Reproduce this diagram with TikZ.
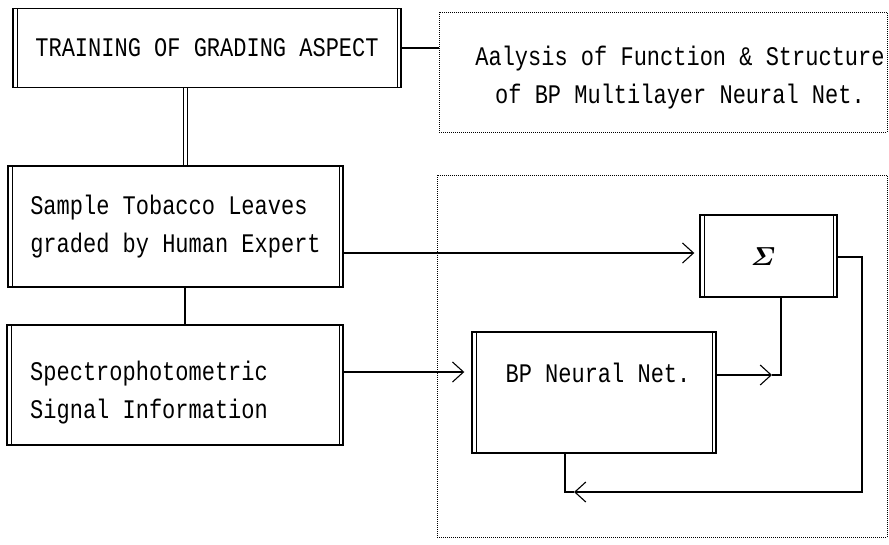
\documentclass[tikz,border=0pt]{standalone}
\usepackage{fontspec}
\setmonofont{Liberation Mono}
\usepackage{graphicx}
\usetikzlibrary{arrows.meta}
\newcommand{\tl}[1]{\scalebox{1}[1.22]{#1}}
\begin{document}
\begin{tikzpicture}[x=1pt,y=-1pt,
  box/.style={draw, line width=1.4pt, inner sep=0pt,
    path picture={
      \draw[line width=0.9pt] ([xshift=4pt]path picture bounding box.north west) -- ([xshift=4pt]path picture bounding box.south west);
      \draw[line width=0.9pt] ([xshift=-4pt]path picture bounding box.north east) -- ([xshift=-4pt]path picture bounding box.south east);
    }},
  dotbox/.style={draw, line width=0.7pt, dash pattern=on 1pt off 1pt, inner sep=0pt},
  txt/.style={font=\fontsize{22}{38}\selectfont\ttfamily, inner sep=0pt},
  conn/.style={line width=1.1pt},
  arr/.style={line width=1.1pt, -{Straight Barb[length=11pt, width=20pt, line width=1.1pt]}},
  thin/.style={line width=0.9pt}
]
\useasboundingbox (0,0) rectangle (889,544);

% boxes
\node[box, minimum width=388pt, minimum height=79pt, txt] (train) at (207,48) {\tl{TRAINING OF GRADING ASPECT}};
\node[dotbox, minimum width=448pt, minimum height=120pt] (anal) at (663,72) {};
\node[txt, align=center] (analt) at (680,78) {\tl{Aalysis of Function \& Structure}\\\tl{of BP Multilayer Neural Net.}};

\node[box, minimum width=335pt, minimum height=121pt, txt, align=left] (sample) at (175.5,226.5) {\tl{Sample Tobacco Leaves}\\\tl{graded by Human Expert}};
\node[box, minimum width=336pt, minimum height=120pt] (spec) at (175,385) {};
\node[txt, align=left, anchor=west] (spect) at (30,393) {\tl{Spectrophotometric}\\\tl{Signal Information}};

\node[dotbox, minimum width=450pt, minimum height=362pt] (sys) at (662,356) {};
\node[box, minimum width=137pt, minimum height=82pt, inner sep=0pt] (sigma) at (768.5,256) {};
\node[inner sep=0pt] (sigmat) at (763,257) {\scalebox{2.6}{\boldmath$\mathchar"7106$}};
\node[box, minimum width=244pt, minimum height=121pt] (bp) at (594,392.5) {};
\node[txt] (bpt) at (598,373) {\tl{BP Neural Net.}};

% helper coordinates
\coordinate (vx) at (185,0);
\coordinate (ya) at (0,253);
\coordinate (yb) at (0,372);
\coordinate (jx) at (781,375);
\coordinate (ys) at (0,257);
\coordinate (fb) at (862,492);
\coordinate (fc) at (565,492);

% connectors
\draw[conn] (train.east) -- (anal.west |- train.east);
\draw[thin] ([xshift=-2pt]train.south -| vx) -- ([xshift=-2pt]sample.north -| vx);
\draw[thin] ([xshift=2pt]train.south -| vx) -- ([xshift=2pt]sample.north -| vx);
\draw[conn] (sample.south -| vx) -- (spec.north -| vx);
\draw[arr] (sample.east |- ya) -- ([xshift=-5pt]sigma.west |- ya);
\draw[arr] (spec.east |- yb) -- ([xshift=-7pt]bp.west |- yb);
\draw[arr] (bp.east |- jx) -- ([xshift=-9pt]jx);
\draw[conn] ([xshift=-9pt]jx) -- (jx) -- (sigma.south -| jx);
\draw[arr] (sigma.east |- ys) -| (fb) -- ([xshift=9pt]fc);
\draw[conn] (bp.south -| fc) |- ([xshift=9pt]fc);
\end{tikzpicture}
\end{document}
